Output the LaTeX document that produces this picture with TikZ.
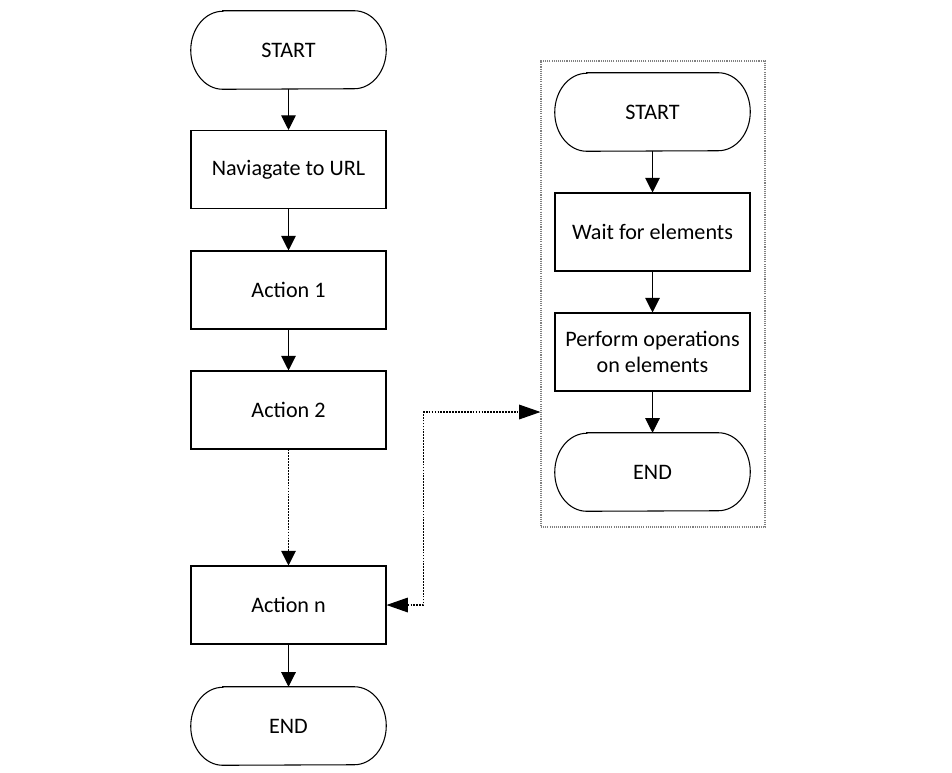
\documentclass[tikz,border=0pt]{standalone}
\usepackage{fontspec}
\setmainfont{Carlito}
\usetikzlibrary{arrows.meta}
\tikzset{
  box/.style={draw, line width=0.8pt, minimum width=146.25pt, minimum height=58.5pt, align=center, font=\fontsize{16.6}{20}\selectfont, inner sep=0pt},
  termtext/.style={minimum width=146.25pt, minimum height=58.5pt, inner sep=0pt, font=\fontsize{16.6}{20}\selectfont},
  termline/.style={line width=0.8pt},
  flow/.style={line width=0.8pt, -{Triangle[length=11pt,width=11pt]}},
  dotflow/.style={line width=0.8pt, dash pattern=on 1.3pt off 0.9pt, -{Triangle[length=11pt,width=11pt]}},
  linkflow/.style={line width=0.8pt, dash pattern=on 1.3pt off 0.9pt, {Triangle[length=16pt,width=11pt]}-{Triangle[length=16pt,width=11pt]}},
  frame/.style={draw=gray, line width=0.8pt, dash pattern=on 0.8pt off 0.8pt, minimum width=168pt, minimum height=349.5pt, inner sep=0pt}
}
\newcommand{\termshape}[1]{%
  \draw[termline] ([xshift=24pt]#1.north west) -- ([xshift=-24pt]#1.north east)
    arc[start angle=90, end angle=-90, x radius=24pt, y radius=29.25pt]
    -- ([xshift=24pt]#1.south west)
    arc[start angle=270, end angle=90, x radius=24pt, y radius=29.25pt] -- cycle;}
\begin{document}
\begin{tikzpicture}[x=0.75pt,y=-0.75pt]
\useasboundingbox (0,0) rectangle (952,772);
% left column
\node[termtext] (s1) at (288.5,50) {START};
\termshape{s1}
\node[box] (nav) at (288.5,169.5) {Naviagate to URL};
\node[box] (a1) at (288.5,290) {Action 1};
\node[box] (a2) at (288.5,410) {Action 2};
\node[box] (an) at (288.5,605) {Action n};
\node[termtext] (e1) at (288.5,726) {END};
\termshape{e1}
\draw[flow] (s1) -- (nav);
\draw[flow] (nav) -- (a1);
\draw[flow] (a1) -- (a2);
\draw[dotflow] (a2) -- (an);
\draw[flow] (an) -- (e1);
% right column
\node[frame] (fr) at (653,294) {};
\node[termtext] (s2) at (652.5,112) {START};
\termshape{s2}
\node[box] (wait) at (652.5,232) {Wait for elements};
\node[box] (perf) at (652.5,352) {Perform operations\\on elements};
\node[termtext] (e2) at (652.5,472) {END};
\termshape{e2}
\draw[flow] (s2) -- (wait);
\draw[flow] (wait) -- (perf);
\draw[flow] (perf) -- (e2);
% link
\coordinate (fin) at (fr.west |- 0,412);
\draw[linkflow] (an.east) -- ++(37,0) |- (fin);
\end{tikzpicture}
\end{document}
